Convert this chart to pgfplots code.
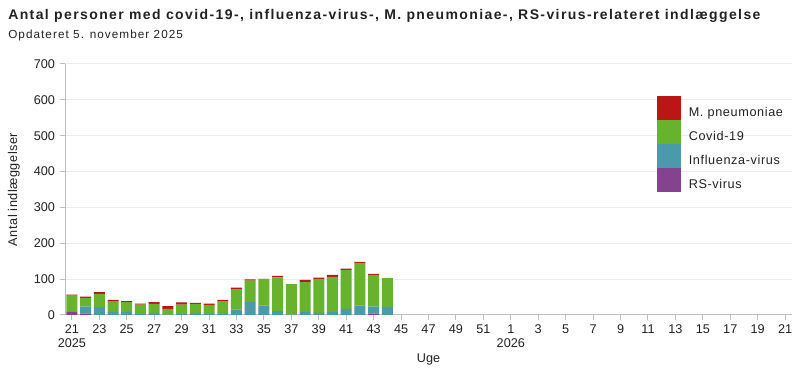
\documentclass[border=0pt]{standalone}
\usepackage{fontspec}
\setmainfont{Liberation Sans}
\usepackage{pgfplots}
\usepackage{pgfplotstable}
\pgfplotsset{compat=1.18}
\definecolor{cMp}{RGB}{187,21,21}
\definecolor{cCov}{RGB}{103,179,46}
\definecolor{cInf}{RGB}{74,154,172}
\definecolor{cRS}{RGB}{133,67,143}
\definecolor{axgray}{RGB}{190,190,190}
\definecolor{gridgray}{RGB}{236,236,236}
\definecolor{txt}{RGB}{34,34,34}

% idx: 0 = week 21 2025 ... 31 = week 52 2025, 32 = week 1 2026 ... 52 = week 21 2026
\pgfplotstableread{
idx RS Inf Cov Mp
0  9  0  45 3
1  4  19 25 3
2  0  22 37 5
3  0  9  28 5
4  0  9  27 3
5  0  3  26 3
6  0  6  25 5
7  0  1  16 8
8  0  3  26 6
9  0  6  25 3
10 0  3  25 4
11 0  3  36 3
12 0  16 56 4
13 0  36 60 3
14 0  26 74 1
15 0  11 94 4
16 0  1  85 0
17 0  9  83 6
18 0  6  95 3
19 0  9  97 6
20 0  17 109 3
21 0  26 119 3
22 4  19 89 3
23 0  22 81 0
}\data

\begin{document}
\begin{tikzpicture}[x=1pt,y=1pt]
\begin{axis}[
  scale only axis, width=545.25pt, height=188.25pt,
  clip=false,
  ybar stacked, bar width=0.8,
  xmin=-0.5, xmax=52.5, ymin=0, ymax=700,
  ytick={0,100,...,700},
  ymajorgrids, grid style={gridgray, line width=0.75pt},
  axis x line*=bottom, axis y line*=left,
  axis line style={axgray, line width=0.75pt, -},
  tick align=outside, major tick length=4pt,
  tick style={axgray, line width=0.75pt},
  xtick={0,2,...,30,32,34,...,52},
  xticklabels={{21\\2025},23,25,27,29,31,33,35,37,39,41,43,45,47,49,51,{1\\2026},3,5,7,9,11,13,15,17,19,21},
  xticklabel style={align=center, font=\fontsize{9.5}{10}\selectfont, text=txt},
  yticklabel style={font=\fontsize{9.5}{10}\selectfont, text=txt},
  /pgf/number format/assume math mode=true,
  xlabel={Uge}, ylabel={Antal indlæggelser},
  xlabel style={at={(axis description cs:0.5,-0.177)}, anchor=center, font=\fontsize{9.5}{11}\selectfont, text=txt},
  ylabel style={at={(axis description cs:-0.0702,0.5)}, anchor=center, font=\fontsize{9.5}{11}\selectfont\addfontfeature{LetterSpace=4}, text=txt},
  legend style={at={(rel axis cs:0.814,0.873)}, anchor=north west, draw=none, fill=none,
     inner sep=0pt, outer sep=0pt, row sep=0pt, font=\fontsize{9.5}{11}\selectfont\addfontfeature{LetterSpace=5}, text=txt,
     nodes={inner sep=0pt, outer sep=0pt}},
  legend cell align=left,
  reverse legend,
  legend image code/.code={\fill (0pt,-5.5pt) rectangle (18pt,12.5pt); \path (24pt,0pt);},
]
\addplot[fill=cRS, draw=none] table[x=idx, y=RS] {\data};
\addlegendentry{RS-virus}
\addplot[fill=cInf, draw=none] table[x=idx, y=Inf] {\data};
\addlegendentry{Influenza-virus}
\addplot[fill=cCov, draw=none] table[x=idx, y=Cov] {\data};
\addlegendentry{Covid-19}
\addplot[fill=cMp, draw=none] table[x=idx, y=Mp] {\data};
\addlegendentry{M. pneumoniae}
% frame of the whole picture (800 x 375 px), relative to the axis box
\coordinate (BL) at (rel axis cs:-0.089409,-0.239044);
\coordinate (TR) at (rel axis cs:1.011004,1.254980);
\coordinate (TL) at (rel axis cs:-0.089409,1.254980);
\end{axis}
\node[anchor=base west, inner sep=0pt, text=txt, font=\bfseries\fontsize{10.5}{12}\selectfont\addfontfeature{LetterSpace=10}] at ([shift={(6pt,-14.65pt)}]TL)
  {Antal personer med covid-19-, influenza-virus-, M. pneumoniae-, RS-virus-relateret indlæggelse};
\node[anchor=base west, inner sep=0pt, text=txt, font=\fontsize{8.8}{11}\selectfont\addfontfeature{LetterSpace=9}] at ([shift={(6pt,-28.7pt)}]TL)
  {Opdateret 5. november 2025};
\pgfresetboundingbox
\path[use as bounding box] (BL) rectangle (TR);
\end{tikzpicture}
\end{document}
